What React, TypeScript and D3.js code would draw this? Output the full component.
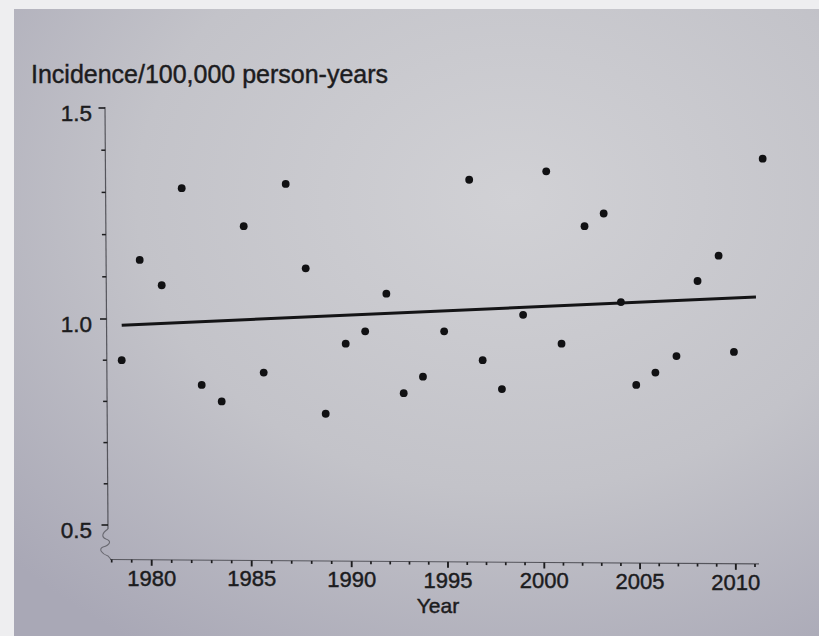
import React from "react";
import * as d3 from "d3";

// ---- data ----
const years: number[] = [
  1978.5, 1979.4, 1980.5, 1981.5, 1982.5, 1983.5, 1984.6, 1985.6, 1986.7, 1987.7,
  1988.7, 1989.7, 1990.7, 1991.8, 1992.7, 1993.7, 1994.8, 1996.1, 1996.8, 1997.8,
  1998.9, 2000.1, 2000.9, 2002.1, 2003.1, 2004.0, 2004.8, 2005.8, 2006.9, 2008.0,
  2009.1, 2009.9, 2011.4,
];
const incidence: number[] = [
  0.90, 1.14, 1.08, 1.31, 0.84, 0.80, 1.22, 0.87, 1.32, 1.12,
  0.77, 0.94, 0.97, 1.06, 0.82, 0.86, 0.97, 1.33, 0.90, 0.83,
  1.01, 1.35, 0.94, 1.22, 1.25, 1.04, 0.84, 0.87, 0.91, 1.09,
  1.15, 0.92, 1.38,
];
const trendYears: number[] = [1978.5, 2011.05];
const trendValues: number[] = [0.985, 1.052];

const xMajorTicks: number[] = [1980, 1985, 1990, 1995, 2000, 2005, 2010];
const xMinorTicks: number[] = d3.range(1978, 2012);
const yMajorTicks: number[] = [0.5, 1.0, 1.5];
const yMinorTicks: number[] = [0.6, 0.7, 0.8, 0.9, 1.1, 1.2, 1.3, 1.4];

const titleText = "Incidence/100,000 person-years";
const xTitle = "Year";

const W = 819;
const H = 636;

export default function App() {
  // photo perspective: slightly compressed toward the right
  const x = d3
    .scaleLinear()
    .domain([1978, 1990, 2000, 2011])
    .range([111.7, 351.7, 544.3, 755]);
  const y = d3.scaleLinear().domain([0.5, 1.0, 1.5]).range([525, 319, 108]);

  // slight tilt of the photographed axes
  const yAxisX = (py: number) => 105 + (py - 108) * 0.0072;
  const xAxisY = (px: number) => 559.5 + (px - 111) * 0.0069;

  const font = "'Liberation Sans', Arial, Helvetica, sans-serif";
  const ink = "#1c1c1e";
  const textStroke = { stroke: ink, strokeWidth: 0.45 };

  const trendLine = d3
    .line<number>()
    .x((_, i) => x(trendYears[i]))
    .y((d) => y(d))(trendValues) as string;

  const xStart = 110;
  const xEnd = 759;
  const yTop = y(1.5);
  const yBot = y(0.5);

  return (
    <div style={{ position: "absolute", left: 0, top: 0 }}>
      <svg width={W} height={H} viewBox={`0 0 ${W} ${H}`} style={{ display: "block" }}>
        <defs>
          <radialGradient id="paper" cx="62%" cy="30%" r="85%">
            <stop offset="0%" stopColor="#d1d1d5" />
            <stop offset="55%" stopColor="#c3c3c9" />
            <stop offset="100%" stopColor="#a9a8b6" />
          </radialGradient>
        </defs>
        <rect x={0} y={0} width={W} height={H} fill="#eeeef0" />
        <rect x={14} y={9} width={W - 14} height={H - 9} fill="url(#paper)" />

        {/* title */}
        <text
          x={31}
          y={83}
          fontFamily={font}
          fontSize={26}
          fill={ink}
          {...textStroke}
          textLength={357}
          lengthAdjust="spacingAndGlyphs"
        >
          {titleText}
        </text>

        {/* y axis */}
        <line x1={yAxisX(yTop)} y1={yTop - 1} x2={yAxisX(yBot)} y2={yBot + 4} stroke="#55555c" strokeWidth={1.2} />
        <path
          d={`M${yAxisX(yBot)},${yBot + 4} C102,${yBot + 8} 101,${yBot + 12} 106,${yBot + 14} C112,${yBot + 16} 110,${yBot + 20} 103,${yBot + 22} C98,${yBot + 24} 102,${yBot + 29} 108,${yBot + 31} L111,${xAxisY(111)}`}
          fill="none"
          stroke="#6a6a72"
          strokeWidth={1.1}
        />
        {yMinorTicks.map((v) => (
          <line
            key={"ym" + v}
            x1={yAxisX(y(v)) - 4}
            x2={yAxisX(y(v))}
            y1={y(v)}
            y2={y(v)}
            stroke={ink}
            strokeWidth={1.5}
          />
        ))}
        {yMajorTicks.map((v) => (
          <g key={"yM" + v}>
            <line
              x1={yAxisX(y(v)) - 6.5}
              x2={yAxisX(y(v))}
              y1={y(v)}
              y2={y(v)}
              stroke={ink}
              strokeWidth={1.6}
            />
            <text
              x={92}
              y={y(v) + 12.5}
              textAnchor="end"
              fontFamily={font}
              fontSize={22.5}
              fill={ink}
              {...textStroke}
            >
              {d3.format(".1f")(v)}
            </text>
          </g>
        ))}

        {/* x axis */}
        <line x1={xStart} y1={xAxisY(xStart)} x2={xEnd} y2={xAxisY(xEnd)} stroke="#55555c" strokeWidth={1.2} />
        {xMinorTicks.map((t) => {
          const major = t % 5 === 0;
          const px = x(t);
          return (
            <line
              key={"xt" + t}
              x1={px}
              x2={px}
              y1={xAxisY(px)}
              y2={xAxisY(px) + (major ? 6 : 3)}
              stroke={ink}
              strokeWidth={major ? 1.9 : 1.7}
            />
          );
        })}
        {xMajorTicks.map((t) => (
          <text
            key={"xl" + t}
            x={x(t)}
            y={xAxisY(x(t)) + 26}
            textAnchor="middle"
            fontFamily={font}
            fontSize={22}
            fill={ink}
            {...textStroke}
          >
            {t}
          </text>
        ))}
        <text
          x={438}
          y={612.5}
          textAnchor="middle"
          fontFamily={font}
          fontSize={21}
          fill={ink}
          {...textStroke}
        >
          {xTitle}
        </text>

        {/* regression line */}
        <path d={trendLine} fill="none" stroke="#141416" strokeWidth={2.9} />

        {/* points */}
        {years.map((yr, i) => (
          <circle key={"p" + i} cx={x(yr)} cy={y(incidence[i])} r={3.9} fill="#111113" />
        ))}
      </svg>
    </div>
  );
}
